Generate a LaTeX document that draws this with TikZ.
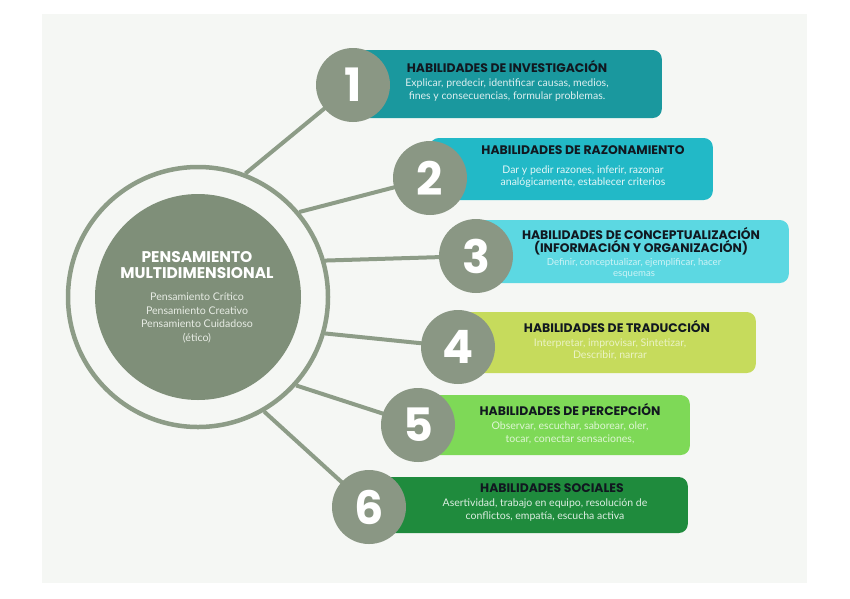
\documentclass[tikz,border=0pt]{standalone}
\usepackage{fontspec}
\setmainfont{Lato}
\newfontfamily\headfont{Poppins}
\definecolor{panel}{HTML}{F5F7F4}
\definecolor{sage}{HTML}{7F8F79}
\definecolor{sagenum}{HTML}{8A9784}
\definecolor{sageline}{HTML}{8D9C87}
\definecolor{cA}{HTML}{1A989E}
\definecolor{cB}{HTML}{22B9C7}
\definecolor{cC}{HTML}{5CD8E2}
\definecolor{cD}{HTML}{C6DB5C}
\definecolor{cE}{HTML}{7ED957}
\definecolor{cF}{HTML}{1F8B3D}
\definecolor{ttl}{HTML}{111820}
\definecolor{coresub}{HTML}{E6EBE3}
\begin{document}
\begin{tikzpicture}[x=1pt,y=-1pt,
  ringst/.style={circle,draw=sageline,line width=4.5pt,minimum size=260pt,inner sep=0pt},
  corest/.style={circle,fill=sage,minimum size=206pt,inner sep=0pt},
  boxst/.style={rounded corners=9pt,inner sep=0pt,anchor=east},
  numst/.style={circle,fill=sagenum,minimum size=74pt,inner sep=0pt,text=white,font=\headfont\bfseries\fontsize{46}{46}\selectfont},
  link/.style={draw=sageline,line width=4pt},
  ttlst/.style={align=center,text=ttl,inner sep=0pt,font=\headfont\bfseries\fontsize{12.4}{12.5}\selectfont},
  bodyst/.style={align=center,inner sep=0pt,font=\fontsize{10.5}{12.6}\selectfont}
]
\useasboundingbox (0,0) rectangle (850,598);
\fill[white] (0,0) rectangle (850,598);
\fill[panel] (42,14) rectangle (807,583);

% boxes
\node[boxst,fill=cA,minimum width=309pt,minimum height=68pt] (b1) at (662,84) {};
\node[boxst,fill=cB,minimum width=283pt,minimum height=62pt] (b2) at (713,169) {};
\node[boxst,fill=cC,minimum width=313pt,minimum height=63pt] (b3) at (789,251.5) {};
\node[boxst,fill=cD,minimum width=298pt,minimum height=61pt] (b4) at (756,342.5) {};
\node[boxst,fill=cE,minimum width=272pt,minimum height=60pt] (b5) at (690,425) {};
\node[boxst,fill=cF,minimum width=319pt,minimum height=56pt] (b6) at (688,505) {};

% central circle
\node[ringst] (ring) at (198,297) {};
\node[corest] (core) at (198,297) {};
\node[align=center,inner sep=0pt,text=white,font=\headfont\bfseries\fontsize{15.5}{16}\selectfont] (ch) at (197,265) {PENSAMIENTO\\MULTIDIMENSIONAL};
\node[align=center,inner sep=0pt,text=coresub,font=\fontsize{10.6}{13.6}\selectfont] (cs) at (197,318) {Pensamiento Crítico\\Pensamiento Creativo\\Pensamiento Cuidadoso\\(ético)};

% number positions
\coordinate (p1) at (353,85);
\coordinate (p2) at (430,178);
\coordinate (p3) at (476,256);
\coordinate (p4) at (458,347);
\coordinate (p5) at (418,425);
\coordinate (p6) at (369,507);

% connectors
\draw[link] (ring.69) -- (p1);
\draw[link] (ring.40) -- (p2);
\draw[link] (ring.16) -- (p3);
\draw[link] (ring.-16) -- (p4);
\draw[link] (ring.-42) -- (p5);
\draw[link] (ring.-60) -- (p6);

% number circles
\node[numst] (n1) at (p1) {1};
\node[numst] (n2) at (p2) {2};
\node[numst] (n3) at (p3) {3};
\node[numst] (n4) at (p4) {4};
\node[numst] (n5) at (p5) {5};
\node[numst] (n6) at (p6) {6};

% texts
\node[ttlst] (h1) at (507,66.5) {HABILIDADES DE INVESTIGACIÓN};
\node[bodyst,text=white!85!cA] (d1) at (507,90) {Explicar, predecir, identificar causas, medios,\\fines y consecuencias, formular problemas.};

\node[ttlst] (h2) at (583,150) {HABILIDADES DE RAZONAMIENTO};
\node[bodyst,text=white!88!cB] (d2) at (583,176.5) {Dar y pedir razones, inferir, razonar\\analógicamente, establecer criterios};

\node[ttlst] (h3) at (641,241) {HABILIDADES DE CONCEPTUALIZACIÓN\\(INFORMACIÓN Y ORGANIZACIÓN)};
\node[bodyst,text=white!70!cC,font=\fontsize{9.6}{10.8}\selectfont] (d3) at (634,268.5) {Definir, conceptualizar, ejemplificar, hacer\\esquemas};

\node[ttlst] (h4) at (617,326) {HABILIDADES DE TRADUCCIÓN};
\node[bodyst,text=white!65!cD] (d4) at (610,349.5) {Interpretar, improvisar, Sintetizar,\\Describir, narrar};

\node[ttlst] (h5) at (570,409.5) {HABILIDADES DE PERCEPCIÓN};
\node[bodyst,text=white!75!cE] (d5) at (570,433) {Observar, escuchar, saborear, oler,\\tocar, conectar sensaciones,};

\node[ttlst] (h6) at (552,488) {HABILIDADES SOCIALES};
\node[bodyst,text=white!85!cF] (d6) at (545,510) {Asertividad, trabajo en equipo, resolución de\\conflictos, empatía, escucha activa};
\end{tikzpicture}
\end{document}
